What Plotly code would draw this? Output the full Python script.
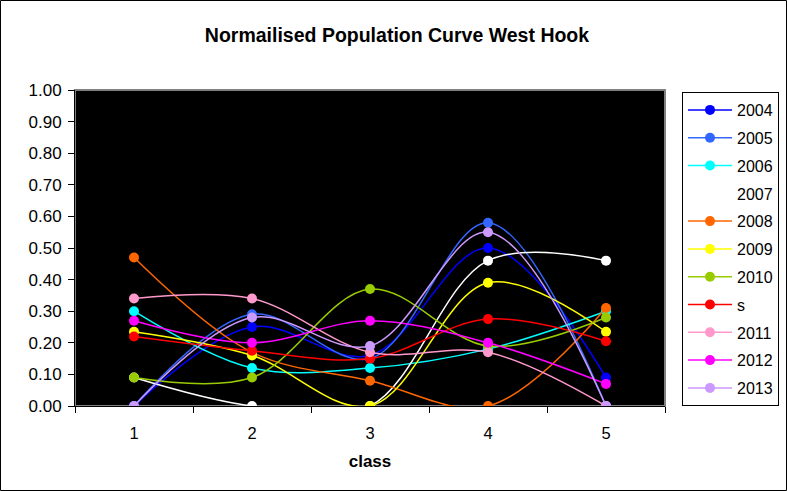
import plotly.graph_objects as go

classes = [1, 2, 3, 4, 5]
series_names = ["2004", "2005", "2006", "2007", "2008", "2009", "2010", "s", "2011", "2012", "2013"]
v2004 = [0.0, 0.25, 0.16, 0.50, 0.09]
v2005 = [0.0, 0.29, 0.15, 0.58, 0.0]
v2006 = [0.30, 0.12, 0.12, 0.18, 0.30]
v2007 = [0.09, 0.0, 0.0, 0.46, 0.46]
v2008 = [0.47, 0.17, 0.08, 0.0, 0.31]
v2009 = [0.235, 0.16, 0.0, 0.39, 0.235]
v2010 = [0.09, 0.09, 0.37, 0.19, 0.28]
v_s = [0.22, 0.175, 0.15, 0.275, 0.205]
v2011 = [0.34, 0.34, 0.17, 0.17, 0.0]
v2012 = [0.27, 0.20, 0.27, 0.20, 0.07]
v2013 = [0.0, 0.28, 0.19, 0.55, 0.0]
series_values = [v2004, v2005, v2006, v2007, v2008, v2009, v2010, v_s, v2011, v2012, v2013]
colors = ["#0000FF", "#3366FF", "#00FFFF", "#FFFFFF", "#FF6600", "#FFFF00",
          "#99CC00", "#FF0000", "#FF99CC", "#FF00FF", "#CC99FF"]
y_ticks = [round(i * 0.1, 1) for i in range(11)]

FONT = "Liberation Sans, Arial, sans-serif"

fig = go.Figure()
for i, (name, vals, col) in enumerate(zip(series_names, series_values, colors)):
    fig.add_trace(go.Scatter(
        x=classes, y=vals, name=name, mode="lines+markers",
        line=dict(color=col, width=1.5, shape="spline", smoothing=1.0),
        marker=dict(color=col, size=10),
        legendgroup=f"g{i}",
    ))

fig.update_layout(
    width=787, height=491,
    margin=dict(l=75, r=122, t=90, b=85, autoexpand=False),
    paper_bgcolor="white",
    plot_bgcolor="black",
    font=dict(family=FONT, size=16, color="black"),
    title=dict(text="<b>Normailised Population Curve West Hook</b>",
               x=397 / 787, xref="container", y=1 - 35.5 / 491, yref="container",
               xanchor="center", yanchor="middle",
               font=dict(size=19.5, family=FONT)),
    showlegend=True,
    legend=dict(x=(682 - 75) / 590, y=(406 - 92) / 316, xanchor="left", yanchor="top",
                bordercolor="black", borderwidth=1, bgcolor="white",
                font=dict(size=16, family=FONT), tracegroupgap=4,
                itemwidth=44),
    xaxis=dict(range=[0.5, 5.5], tickvals=classes, ticktext=[str(c) for c in classes],
               ticks="", showgrid=False, zeroline=False,
               showline=True, linecolor="black", linewidth=1,
               ticklabelstandoff=12,
               minor=dict(tickvals=[0.5, 1.5, 2.5, 3.5, 4.5, 5.5], ticks="outside",
                          ticklen=6, tickcolor="black", showgrid=False),
               title=dict(text="<b>class</b>", font=dict(size=17, family=FONT), standoff=14),
               tickfont=dict(size=16.5)),
    yaxis=dict(range=[0, 1.0], tickvals=y_ticks, tickformat=".2f",
               ticks="outside", ticklen=6, tickcolor="black",
               showgrid=False, zeroline=False,
               showline=True, linecolor="black", linewidth=1,
               ticklabelstandoff=3,
               tickfont=dict(size=17)),
)

# grey plot-area frame (top/right) and outer chart border
fig.add_shape(type="rect", xref="paper", yref="paper", x0=0, x1=1, y0=0, y1=1,
              line=dict(color="#808080", width=2), layer="below")
fig.add_shape(type="rect", xref="paper", yref="paper",
              x0=(0.5 - 75) / 590, x1=(786.5 - 75) / 590,
              y0=(406 - 490.5) / 316, y1=(406 - 0.5) / 316,
              line=dict(color="black", width=1))

fig.write_html("out.html", config={"displayModeBar": False},
               post_script="document.body.style.margin='0';document.body.style.overflow='hidden';")
